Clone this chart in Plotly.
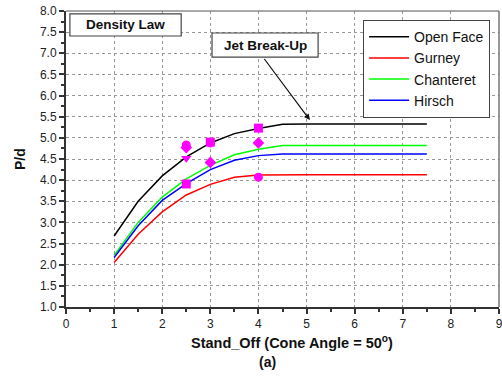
import plotly.graph_objects as go

x_curve = [1, 1.5, 2, 2.5, 3, 3.5, 4, 4.5, 5, 5.5, 6, 6.5, 7, 7.5]
open_face = [2.68, 3.5, 4.1, 4.55, 4.88, 5.1, 5.22, 5.32, 5.33, 5.33, 5.33, 5.33, 5.33, 5.33]
gurney = [2.05, 2.72, 3.25, 3.65, 3.9, 4.07, 4.12, 4.13, 4.13, 4.13, 4.13, 4.13, 4.13, 4.13]
chanteret = [2.22, 3.0, 3.6, 4.03, 4.35, 4.6, 4.73, 4.82, 4.82, 4.82, 4.82, 4.82, 4.82, 4.82]
hirsch = [2.17, 2.92, 3.52, 3.92, 4.25, 4.47, 4.58, 4.62, 4.62, 4.62, 4.62, 4.62, 4.62, 4.62]

exp_circle_x = [2.5, 3, 4]
exp_circle_y = [4.83, 4.88, 4.07]
exp_diamond_x = [2.5, 3, 4]
exp_diamond_y = [4.77, 4.42, 4.88]
exp_tri_x = [2.5]
exp_tri_y = [4.52]
exp_square_x = [2.5, 3, 4]
exp_square_y = [3.91, 4.9, 5.23]

x_ticks = [0, 1, 2, 3, 4, 5, 6, 7, 8, 9]
y_ticks = [1.0, 1.5, 2.0, 2.5, 3.0, 3.5, 4.0, 4.5, 5.0, 5.5, 6.0, 6.5, 7.0, 7.5, 8.0]

FONT = "Liberation Sans, Arial"

fig = go.Figure()
for name, ys, col in [("Open Face", open_face, "#000000"), ("Gurney", gurney, "#FF0000"),
                      ("Chanteret", chanteret, "#00FF00"), ("Hirsch", hirsch, "#0000FF")]:
    fig.add_trace(go.Scatter(x=x_curve, y=ys, mode="lines", name=name,
                             line=dict(color=col, width=1.5)))

for xs, ys, sym in [(exp_circle_x, exp_circle_y, "circle"), (exp_diamond_x, exp_diamond_y, "diamond"),
                    (exp_tri_x, exp_tri_y, "triangle-down"), (exp_square_x, exp_square_y, "square")]:
    fig.add_trace(go.Scatter(x=xs, y=ys, mode="markers", showlegend=False,
                             marker=dict(color="#FF00FF", symbol=sym, size=9, line=dict(width=0))))

axis_common = dict(showgrid=True, gridcolor="#999999", griddash="dot", gridwidth=1,
                   showline=True, linecolor="#333333", linewidth=2, mirror=False,
                   ticks="outside", ticklen=5, tickwidth=1.5, tickcolor="#333333",
                   zeroline=False, ticklabeloverflow="allow", automargin=False,
                   tickfont=dict(family=FONT, size=12, color="#222222"))

fig.update_xaxes(range=[0, 9], tickvals=x_ticks, ticktext=[str(v) for v in x_ticks],
                 minor=dict(ticks="outside", ticklen=3, dtick=0.5, tick0=0, tickcolor="#333333", showgrid=False),
                 **axis_common)
fig.update_yaxes(range=[1, 8], tickvals=y_ticks, ticktext=[f"{v:.1f}" for v in y_ticks],
                 minor=dict(ticks="outside", ticklen=3, dtick=0.25, tick0=0, tickcolor="#333333", showgrid=False),
                 **axis_common)

# thin top/right frame
fig.add_shape(type="line", xref="paper", yref="paper", x0=0, x1=1, y0=1, y1=1,
              line=dict(color="#555555", width=1.2))
fig.add_shape(type="line", xref="paper", yref="paper", x0=1, x1=1, y0=0, y1=1,
              line=dict(color="#555555", width=1.2))

# text boxes
fig.add_shape(type="rect", xref="paper", yref="paper", x0=0.009, x1=0.266, y0=0.9155, y1=0.99,
              line=dict(color="#444444", width=1.2), fillcolor="white")
fig.add_shape(type="rect", xref="x", yref="y", x0=3.035, x1=5.24, y0=6.91, y1=7.48,
              line=dict(color="#444444", width=1.2), fillcolor="white")

# axis titles
fig.add_annotation(x=0.522, y=-0.119, xref="paper", yref="paper", xanchor="center", yanchor="middle",
                   text="<b>Stand_Off (Cone Angle = 50<sup>o</sup>)</b>", showarrow=False,
                   font=dict(family=FONT, size=14.5, color="#111111"))
fig.add_annotation(x=0.465, y=-0.186, xref="paper", yref="paper", xanchor="center", yanchor="middle",
                   text="<b>(a)</b>", showarrow=False,
                   font=dict(family=FONT, size=14, color="#111111"))
fig.add_annotation(x=-0.106, y=0.5, xref="paper", yref="paper", xanchor="center", yanchor="middle",
                   text="<b>P/d</b>", showarrow=False, textangle=-90,
                   font=dict(family=FONT, size=14, color="#111111"))

fig.add_annotation(x=0.1375, y=0.953, xref="paper", yref="paper", xanchor="center", yanchor="middle",
                   text="<b>Density Law</b>", showarrow=False,
                   font=dict(family=FONT, size=13.5, color="#111111"))
fig.add_annotation(x=5.07, y=5.42, ax=4.1, ay=6.9, xref="x", yref="y", axref="x", ayref="y",
                   text="", showarrow=True, arrowhead=2, arrowsize=1, arrowwidth=1.2, arrowcolor="#111111")
fig.add_annotation(x=4.14, y=7.195, xref="x", yref="y", xanchor="center", yanchor="middle",
                   text="<b>Jet Break-Up</b>", showarrow=False,
                   font=dict(family=FONT, size=13.5, color="#111111"))

fig.update_layout(width=502, height=376, margin=dict(l=66, r=3, t=11, b=69),
                  plot_bgcolor="white", paper_bgcolor="white",
                  legend=dict(x=0.979, y=0.97, xanchor="right", yanchor="top",
                              bordercolor="#444444", borderwidth=1.2, bgcolor="white",
                              font=dict(family=FONT, size=14, color="#111111"),
                              itemwidth=40, tracegroupgap=0))

fig.write_html("out.html")
